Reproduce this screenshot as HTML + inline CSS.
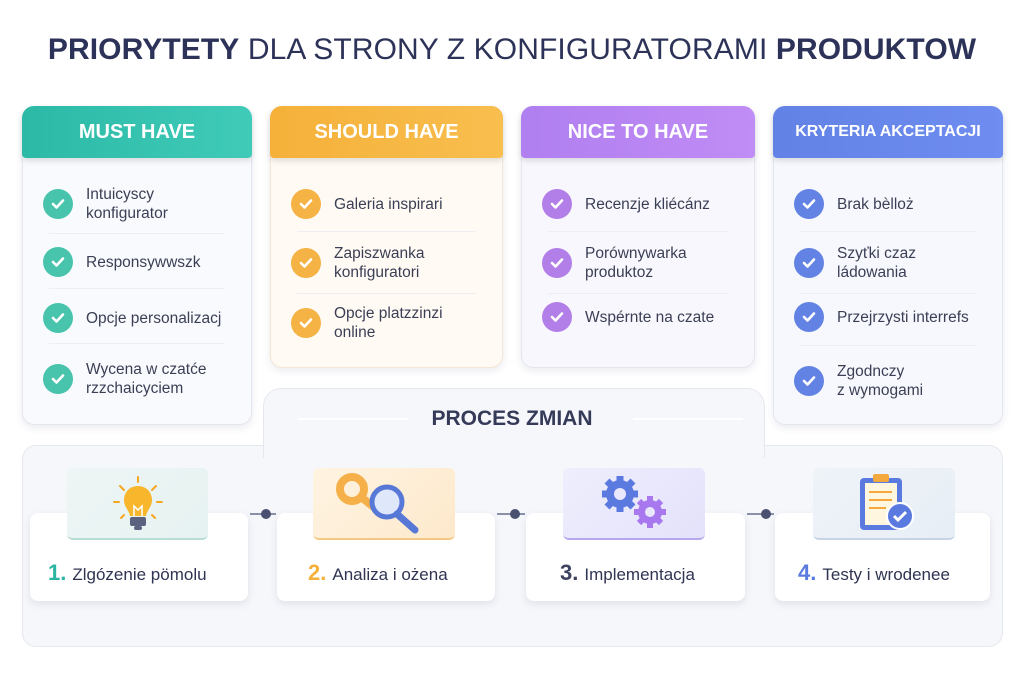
<!DOCTYPE html>
<html><head><meta charset="utf-8"><style>
*{margin:0;padding:0;box-sizing:border-box}
body{width:1024px;height:683px;background:#fff;font-family:"Liberation Sans",sans-serif;position:relative;overflow:hidden;color:#2f3452}
.abs{position:absolute}
.title{left:0;width:1024px;top:33px;text-align:center;font-size:30px;color:#2d3358;white-space:nowrap;letter-spacing:0.1px}
.title b{font-weight:bold}
.card{position:absolute;border-radius:12px;background:#f9fafd;border:1px solid #e3e6ef;box-shadow:0 3px 8px rgba(60,70,110,.10)}
.hdr{position:absolute;left:-1px;right:-1px;top:-1px;height:52px;border-radius:12px 12px 4px 4px;color:#fff;font-weight:bold;font-size:20px;text-align:center;line-height:52px;box-shadow:0 3px 6px rgba(0,0,0,.12)}
.item{position:absolute;left:20px;right:10px;display:flex;align-items:center;font-size:15.5px;color:#3a3f55;line-height:19px}
.chk{width:30px;height:30px;border-radius:50%;flex:none;margin-right:13px;display:flex;align-items:center;justify-content:center}
.sep{position:absolute;left:26px;right:26px;height:1px;background:#eceef4}
.step{position:absolute;top:513px;height:88px;background:#fff;border-radius:8px;box-shadow:0 3px 8px rgba(60,70,110,.12)}
.ico{position:absolute;top:468px;height:72px;border-radius:6px}
.lbl{position:absolute;top:560px;font-size:17px;color:#2f3452;white-space:nowrap}
.lbl b{font-size:22px;margin-right:6px}
.dot{position:absolute;top:509px;width:10px;height:10px;border-radius:50%;background:#4a5070}
.ln{position:absolute;top:513px;height:2px;background:#8a90a8}
</style></head><body>
<div class="abs title"><b>PRIORYTETY</b> DLA STRONY Z KONFIGURATORAMI <b>PRODUKTOW</b></div>

<div class="abs" style="left:22px;top:445px;width:981px;height:202px;background:#f6f7fb;border:1px solid #e6e8f0;border-radius:14px"></div>
<div class="abs" style="left:263px;top:388px;width:502px;height:70px;background:#f6f7fb;border:1px solid #e6e8f0;border-bottom:none;border-radius:18px 18px 0 0"></div>
<div class="abs" style="left:264px;top:440px;width:500px;height:12px;background:#f6f7fb"></div>
<div class="abs" style="left:298px;top:418px;width:110px;height:2px;background:#fff"></div>
<div class="abs" style="left:633px;top:418px;width:110px;height:2px;background:#fff"></div>
<div class="abs" style="left:0;width:1024px;top:407px;text-align:center;font-size:21px;font-weight:bold;color:#343a58">PROCES ZMIAN</div>

<div class="card" style="left:22px;top:106px;width:230px;height:319px">
<div class="hdr" style="background:linear-gradient(90deg,#2cb9a6,#3fcbb8)">MUST HAVE</div>
<div class="item" style="top:78px"><div class="chk" style="background:#48c4ad"><svg width="16" height="16"><path d="M3 8l3.5 3.5L13 4.5" stroke="#fff" stroke-width="2.6" fill="none" stroke-linecap="round" stroke-linejoin="round"/></svg></div>Intuicyscy<br>konfigurator</div>
<div class="sep" style="top:126px"></div>
<div class="item" style="top:140px"><div class="chk" style="background:#48c4ad"><svg width="16" height="16"><path d="M3 8l3.5 3.5L13 4.5" stroke="#fff" stroke-width="2.6" fill="none" stroke-linecap="round" stroke-linejoin="round"/></svg></div>Responsywwszk</div>
<div class="sep" style="top:181px"></div>
<div class="item" style="top:196px"><div class="chk" style="background:#48c4ad"><svg width="16" height="16"><path d="M3 8l3.5 3.5L13 4.5" stroke="#fff" stroke-width="2.6" fill="none" stroke-linecap="round" stroke-linejoin="round"/></svg></div>Opcje personalizacj</div>
<div class="sep" style="top:236px"></div>
<div class="item" style="top:253px"><div class="chk" style="background:#48c4ad"><svg width="16" height="16"><path d="M3 8l3.5 3.5L13 4.5" stroke="#fff" stroke-width="2.6" fill="none" stroke-linecap="round" stroke-linejoin="round"/></svg></div>Wycena w czatće<br>rzzchaicyciem</div>
</div>

<div class="card" style="left:270px;top:106px;width:233px;height:262px;background:#fffaf3;border-color:#f3e6d3">
<div class="hdr" style="background:linear-gradient(90deg,#f5b13a,#f8be4e)">SHOULD HAVE</div>
<div class="item" style="top:82px"><div class="chk" style="background:#f4b344"><svg width="16" height="16"><path d="M3 8l3.5 3.5L13 4.5" stroke="#fff" stroke-width="2.6" fill="none" stroke-linecap="round" stroke-linejoin="round"/></svg></div>Galeria inspirari</div>
<div class="sep" style="top:124px"></div>
<div class="item" style="top:137px"><div class="chk" style="background:#f4b344"><svg width="16" height="16"><path d="M3 8l3.5 3.5L13 4.5" stroke="#fff" stroke-width="2.6" fill="none" stroke-linecap="round" stroke-linejoin="round"/></svg></div>Zapiszwanka<br>konfiguratori</div>
<div class="sep" style="top:186px"></div>
<div class="item" style="top:197px"><div class="chk" style="background:#f4b344"><svg width="16" height="16"><path d="M3 8l3.5 3.5L13 4.5" stroke="#fff" stroke-width="2.6" fill="none" stroke-linecap="round" stroke-linejoin="round"/></svg></div>Opcje platzzinzi<br>online</div>
</div>

<div class="card" style="left:521px;top:106px;width:234px;height:262px;background:#f8f7fd">
<div class="hdr" style="background:linear-gradient(90deg,#b07ff0,#c08cf5)">NICE TO HAVE</div>
<div class="item" style="top:82px"><div class="chk" style="background:#b27fe8"><svg width="16" height="16"><path d="M3 8l3.5 3.5L13 4.5" stroke="#fff" stroke-width="2.6" fill="none" stroke-linecap="round" stroke-linejoin="round"/></svg></div>Recenzje kliécánz</div>
<div class="sep" style="top:124px"></div>
<div class="item" style="top:137px"><div class="chk" style="background:#b27fe8"><svg width="16" height="16"><path d="M3 8l3.5 3.5L13 4.5" stroke="#fff" stroke-width="2.6" fill="none" stroke-linecap="round" stroke-linejoin="round"/></svg></div>Porównywarka<br>produktoz</div>
<div class="sep" style="top:186px"></div>
<div class="item" style="top:195px"><div class="chk" style="background:#b27fe8"><svg width="16" height="16"><path d="M3 8l3.5 3.5L13 4.5" stroke="#fff" stroke-width="2.6" fill="none" stroke-linecap="round" stroke-linejoin="round"/></svg></div>Wspérnte na czate</div>
</div>

<div class="card" style="left:773px;top:106px;width:230px;height:319px;background:#f7f8fd">
<div class="hdr" style="background:linear-gradient(90deg,#6282e6,#6f8df0);font-size:16px">KRYTERIA AKCEPTACJI</div>
<div class="item" style="top:82px"><div class="chk" style="background:#6383e4"><svg width="16" height="16"><path d="M3 8l3.5 3.5L13 4.5" stroke="#fff" stroke-width="2.6" fill="none" stroke-linecap="round" stroke-linejoin="round"/></svg></div>Brak bèlloż</div>
<div class="sep" style="top:124px"></div>
<div class="item" style="top:137px"><div class="chk" style="background:#6383e4"><svg width="16" height="16"><path d="M3 8l3.5 3.5L13 4.5" stroke="#fff" stroke-width="2.6" fill="none" stroke-linecap="round" stroke-linejoin="round"/></svg></div>Szyťki czaz<br>ládowania</div>
<div class="sep" style="top:186px"></div>
<div class="item" style="top:195px"><div class="chk" style="background:#6383e4"><svg width="16" height="16"><path d="M3 8l3.5 3.5L13 4.5" stroke="#fff" stroke-width="2.6" fill="none" stroke-linecap="round" stroke-linejoin="round"/></svg></div>Przejrzysti interrefs</div>
<div class="sep" style="top:238px"></div>
<div class="item" style="top:255px"><div class="chk" style="background:#6383e4"><svg width="16" height="16"><path d="M3 8l3.5 3.5L13 4.5" stroke="#fff" stroke-width="2.6" fill="none" stroke-linecap="round" stroke-linejoin="round"/></svg></div>Zgodnczy<br>z wymogami</div>
</div>

<div class="step" style="left:30px;width:218px"></div>
<div class="step" style="left:277px;width:218px"></div>
<div class="step" style="left:526px;width:219px"></div>
<div class="step" style="left:775px;width:215px"></div>

<div class="ln" style="left:250px;width:26px"></div><div class="dot" style="left:261px"></div>
<div class="ln" style="left:497px;width:28px"></div><div class="dot" style="left:510px"></div>
<div class="ln" style="left:747px;width:27px"></div><div class="dot" style="left:761px"></div>

<div class="ico" style="left:67px;width:141px;background:linear-gradient(135deg,#eef5f5,#e6f2f1);border-bottom:2px solid #b7ddd6"></div>
<div class="ico" style="left:313px;width:142px;background:linear-gradient(135deg,#fff4e2,#fde9cc);border-bottom:2px solid #f5c784"></div>
<div class="ico" style="left:563px;width:142px;background:linear-gradient(135deg,#eeeefd,#e4e2fb);border-bottom:2px solid #b7a8ee"></div>
<div class="ico" style="left:813px;width:142px;background:linear-gradient(135deg,#eef3f8,#e7eef5);border-bottom:2px solid #c8d4e4"></div>

<svg class="abs" style="left:112px;top:474px" width="52" height="60"><g stroke="#f5a623" stroke-width="2" stroke-linecap="round"><line x1="26" y1="3" x2="26" y2="8"/><line x1="8" y1="12" x2="12" y2="16"/><line x1="44" y1="12" x2="40" y2="16"/><line x1="2" y1="28" x2="7" y2="28"/><line x1="45" y1="28" x2="50" y2="28"/><line x1="9" y1="44" x2="12" y2="41"/><line x1="43" y1="44" x2="40" y2="41"/></g><path d="M26 12c-9 0-14 7-14 14 0 7 5 10 6 16h16c1-6 6-9 6-16 0-7-5-14-14-14z" fill="#f8b62c"/><path d="M22 42v-10l4 4 4-4v10" stroke="#fff" stroke-width="1.5" fill="none"/><rect x="18" y="43" width="16" height="9" rx="2" fill="#5a6280"/><rect x="22" y="52" width="8" height="4" rx="2" fill="#5a6280"/></svg>
<svg class="abs" style="left:335px;top:472px" width="92" height="64"><circle cx="17" cy="17" r="12" fill="none" stroke="#f6b04a" stroke-width="8"/><line x1="26" y1="25" x2="40" y2="36" stroke="#f6b04a" stroke-width="8"/><circle cx="52" cy="30" r="15" fill="#dfe7fb" stroke="#5878d8" stroke-width="5"/><line x1="62" y1="42" x2="80" y2="58" stroke="#5878d8" stroke-width="7" stroke-linecap="round"/></svg>
<svg class="abs" style="left:598px;top:474px" width="76" height="60"><g fill="#5a7ae0"><circle cx="22" cy="20" r="14"/><g stroke="#5a7ae0" stroke-width="7"><line x1="22" y1="2" x2="22" y2="38"/><line x1="4" y1="20" x2="40" y2="20"/><line x1="9" y1="7" x2="35" y2="33"/><line x1="35" y1="7" x2="9" y2="33"/></g></g><circle cx="22" cy="20" r="6" fill="#e9e8fc"/><g fill="#a778ee"><circle cx="52" cy="38" r="12"/><g stroke="#a778ee" stroke-width="6"><line x1="52" y1="22" x2="52" y2="54"/><line x1="36" y1="38" x2="68" y2="38"/><line x1="41" y1="27" x2="63" y2="49"/><line x1="63" y1="27" x2="41" y2="49"/></g></g><circle cx="52" cy="38" r="5" fill="#e9e8fc"/></svg>
<svg class="abs" style="left:856px;top:472px" width="62" height="62"><rect x="4" y="6" width="42" height="52" rx="4" fill="#5a7ae0"/><rect x="9" y="11" width="32" height="42" fill="#fff6e0"/><rect x="17" y="2" width="16" height="8" rx="2" fill="#f3a93e"/><g stroke="#f3a93e" stroke-width="2"><line x1="13" y1="20" x2="36" y2="20"/><line x1="13" y1="28" x2="36" y2="28"/><line x1="13" y1="36" x2="30" y2="36"/></g><circle cx="44" cy="44" r="13" fill="#5a7ae0" stroke="#fff" stroke-width="2"/><path d="M38 44l4 4 8-8" stroke="#fff" stroke-width="3" fill="none"/></svg>

<div class="lbl" style="left:48px"><b style="color:#2cb5a3">1.</b>Zlgózenie pömolu</div>
<div class="lbl" style="left:308px"><b style="color:#f5b13a">2.</b>Analiza i ożena</div>
<div class="lbl" style="left:560px"><b style="color:#3c4260">3.</b>Implementacja</div>
<div class="lbl" style="left:798px"><b style="color:#5a7ae0">4.</b>Testy i wrodenee</div>
</body></html>
